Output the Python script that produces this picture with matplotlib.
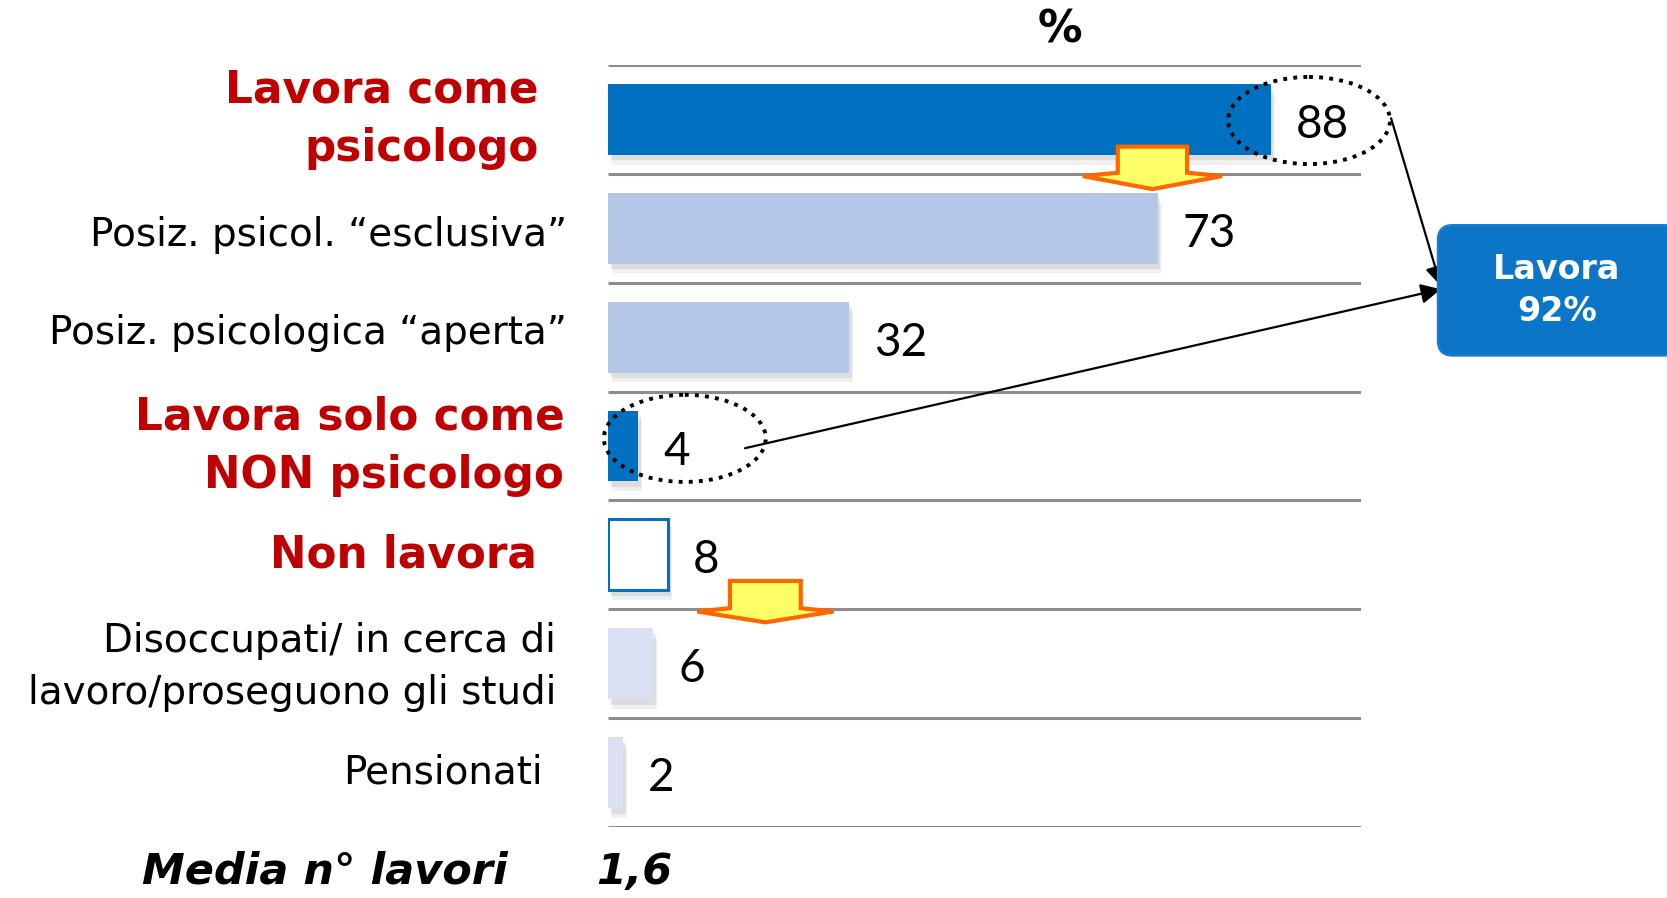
import numpy as np
import matplotlib
matplotlib.use("Agg")
import matplotlib.pyplot as plt
import matplotlib.patheffects as pe
from matplotlib.patches import Ellipse, Polygon, FancyBboxPatch

# data
categories = ["Lavora come\npsicologo",
              "Posiz. psicol. \u201cesclusiva\u201d",
              "Posiz. psicologica \u201caperta\u201d",
              "Lavora solo come\nNON psicologo",
              "Non lavora",
              "Disoccupati/ in cerca di\nlavoro/proseguono gli studi",
              "Pensionati"]
values = [88, 73, 32, 4, 8, 6, 2]
highlight = [True, False, False, True, True, False, False]   # red bold labels
total_label = "Lavora\n92%"
media_label = "Media n\u00b0 lavori"
media_value = "1,6"

# styles
face = ["#0070C0", "#B4C7E7", "#B4C7E7", "#0070C0", "white", "#D9E1F2", "#D9E1F2"]
edge = ["none", "none", "none", "none", "#0070C0", "none", "none"]
label_right = [-9.2, -5.4, -5.4, -5.8, -9.4, -6.9, -8.6]   # right edge of labels (x units)
label_dy = [0, 0.06, -0.04, 0, 0, 0.03, 0]                   # small vertical nudges
RED = "#C00000"

fig = plt.figure(figsize=(16.67, 8.98), dpi=100)
ax = fig.add_axes([608/1667, 1-827/898, 753/1667, 762/898])
ax.set_xlim(0, 100)
ax.set_ylim(len(values)-0.5, -0.5)
ax.axis("off")

y = np.arange(len(values))
ax.hlines(np.arange(len(values)+1)-0.5, 0, 100, color="#8C8C8C", lw=2.2, zorder=1)

bars = ax.barh(y, values, height=0.65, color=face, edgecolor=edge, linewidth=2.2, zorder=3)
for b in bars:
    b.set_path_effects([pe.SimplePatchShadow(offset=(3, -7), shadow_rgbFace="black", alpha=0.06),
                        pe.SimplePatchShadow(offset=(2, -4), shadow_rgbFace="black", alpha=0.08),
                        pe.Normal()])

# value labels
for yi, v in zip(y, values):
    ax.annotate(str(v), (v, yi), xytext=(18, -4), textcoords="offset points",
                ha="left", va="center", fontsize=33, family="Lato", zorder=5)

# category labels
for yi, lab, hl, xr, dy in zip(y, categories, highlight, label_right, label_dy):
    if hl:
        ax.text(xr, yi + dy, lab, ha="right", va="center", fontsize=31.5, color=RED,
                fontweight="bold", linespacing=1.45, clip_on=False)
    else:
        ax.text(xr, yi + dy, lab, ha="right", va="center", fontsize=28, color="black",
                linespacing=1.45, clip_on=False)

ax.text(60, -0.82, "%", ha="center", va="center", fontsize=32, fontweight="bold", clip_on=False)
ax.text(-13.3, 6.91, media_label, ha="right", va="center", fontsize=31,
        fontweight="bold", style="italic", clip_on=False)
ax.text(3.5, 6.91, media_value, ha="center", va="center", fontsize=31,
        fontweight="bold", style="italic", clip_on=False)

# dotted ellipses
for xc, yc in [(93.1, 0.01), (10.2, 2.93)]:
    ax.add_patch(Ellipse((xc, yc), 21.5, 0.8, fill=False, edgecolor="black",
                         lw=2.8, linestyle=(0, (1, 1.6)), zorder=6, clip_on=False))

# block arrows
def block_arrow(xc, y_top, y_base, y_tip, shaft_w, head_w):
    pts = [(xc-shaft_w/2, y_top), (xc+shaft_w/2, y_top), (xc+shaft_w/2, y_base),
           (xc+head_w/2, y_base+0.03), (xc, y_tip), (xc-head_w/2, y_base+0.03),
           (xc-shaft_w/2, y_base)]
    ax.add_patch(Polygon(pts, closed=True, facecolor="#FFFF66", edgecolor="#FF6600",
                         lw=3, zorder=7, clip_on=False))

block_arrow(72.3, 0.25, 0.49, 0.64, 9.2, 18.5)
block_arrow(20.9, 4.24, 4.49, 4.62, 9.4, 18.1)

# summary box
ax.add_patch(FancyBboxPatch((110.2, 0.97), 32, 1.2,
                            boxstyle="round,pad=0,rounding_size=2", mutation_aspect=0.069,
                            facecolor="#0B76C8", edgecolor="#1C7FCB", lw=1.5,
                            clip_on=False, zorder=4))
ax.text(126.0, 1.575, total_label, ha="center", va="center", color="white",
        fontsize=24, fontweight="bold", linespacing=1.35, clip_on=False, zorder=5)

# connectors
arrow_kw = dict(arrowstyle="-|>", color="black", lw=1.6, mutation_scale=30, shrinkA=0, shrinkB=0)
ax.annotate("", xy=(110.6, 1.53), xytext=(104.0, -0.01), arrowprops=arrow_kw, annotation_clip=False)
ax.annotate("", xy=(110.6, 1.56), xytext=(18.2, 3.02), arrowprops=arrow_kw, annotation_clip=False)

fig.savefig("out.png", dpi=100)
